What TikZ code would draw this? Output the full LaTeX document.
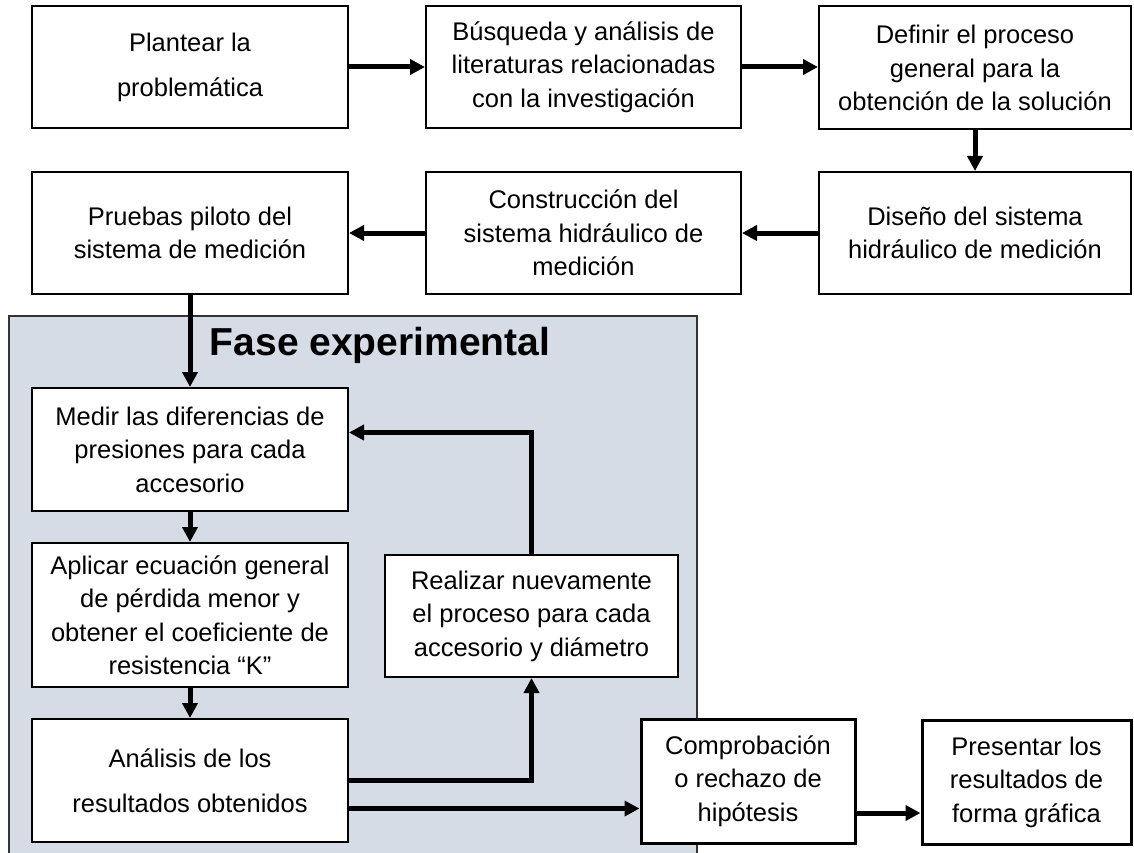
\documentclass[tikz,border=0pt]{standalone}
\usepackage{fontspec}
\setmainfont{Liberation Sans}
\usetikzlibrary{arrows.meta}
\definecolor{faseblue}{HTML}{D6DCE5}
\begin{document}
\begin{tikzpicture}[x=1pt,y=-1pt]
\tikzstyle{box}=[anchor=center,rectangle,draw=black,fill=white,line width=2pt,inner sep=0pt,align=center,font=\fontsize{25.5}{33.5}\selectfont]
\tikzstyle{boxthick}=[box,line width=3pt]
\tikzstyle{arrow}=[-{Triangle[length=15pt,width=15pt]},line width=5pt]
\tikzstyle{phase}=[fill=faseblue,draw=black!80,line width=1.5pt]

\useasboundingbox (0,0) rectangle (1134,853);

% fase experimental
\path [phase] (9,853) |- (697,316) -- (697,853);
\node [anchor=base,font=\fontsize{39}{39}\selectfont\bfseries] at (380,355) (fase) {Fase experimental};

% first row
\node [box,minimum width=316,minimum height=122,font=\fontsize{25.5}{45}\selectfont] at (190,67) (plantear) {Plantear la\\problemática};
\node [box,minimum width=315,minimum height=122] at (583.5,67) (busqueda) {Búsqueda y análisis de\\literaturas relacionadas\\con la investigación};
\node [box,minimum width=312,minimum height=123] at (975,68) (definir) {Definir el proceso\\general para la\\obtención de la solución};

% second row
\node [box,minimum width=312,minimum height=122] at (975,233) (diseno) {Diseño del sistema\\hidráulico de medición};
\node [box,minimum width=315,minimum height=122] at (583.5,233) (construccion) {Construcción del\\sistema hidráulico de\\medición};
\node [box,minimum width=316,minimum height=122] at (190,233) (pruebas) {Pruebas piloto del\\sistema de medición};

\path [arrow] (plantear.east) edge (busqueda.west);
\path [arrow] (busqueda.east) edge (busqueda.east -| definir.west);
\path [arrow] (definir.south) edge (diseno.north);
\path [arrow] (diseno.west) edge (construccion.east);
\path [arrow] (construccion.west) edge (pruebas.east);

% inside the phase
\node [box,minimum width=316,minimum height=123] at (190,449.5) (medir) {Medir las diferencias de\\presiones para cada\\accesorio};
\node [box,minimum width=316,minimum height=144] at (190,615) (aplicar) {Aplicar ecuación general\\de pérdida menor y\\obtener el coeficiente de\\resistencia “K”};
\node [box,minimum width=316,minimum height=123,font=\fontsize{25.5}{45}\selectfont] at (190,780.5) (analisis) {Análisis de los\\resultados obtenidos};
\node [box,minimum width=293,minimum height=122] at (531.5,616) (realizar) {Realizar nuevamente\\el proceso para cada\\accesorio y diámetro};

\path [arrow] (pruebas.south) edge (medir.north);
\path [arrow] (medir.south) edge (aplicar.north);
\path [arrow] (aplicar.south) edge (analisis.north);
\draw [arrow] (analisis.east) -| (realizar.south);
\draw [arrow] (realizar.north) |- ([yshift=17pt]medir.east);

% last row
\node [boxthick,minimum width=214,minimum height=124] at (748,781) (comprobacion) {Comprobación\\o rechazo de\\hipótesis};
\node [boxthick,minimum width=209,minimum height=124] at (1026.5,782) (presentar) {Presentar los\\resultados de\\forma gráfica};

\coordinate (outk) at ([yshift=-28pt]analisis.east);
\coordinate (outc) at ([yshift=-32pt]comprobacion.east);
\path [arrow] (outk) edge (outk -| comprobacion.west);
\path [arrow] (outc) edge (outc -| presentar.west);
\end{tikzpicture}
\end{document}
